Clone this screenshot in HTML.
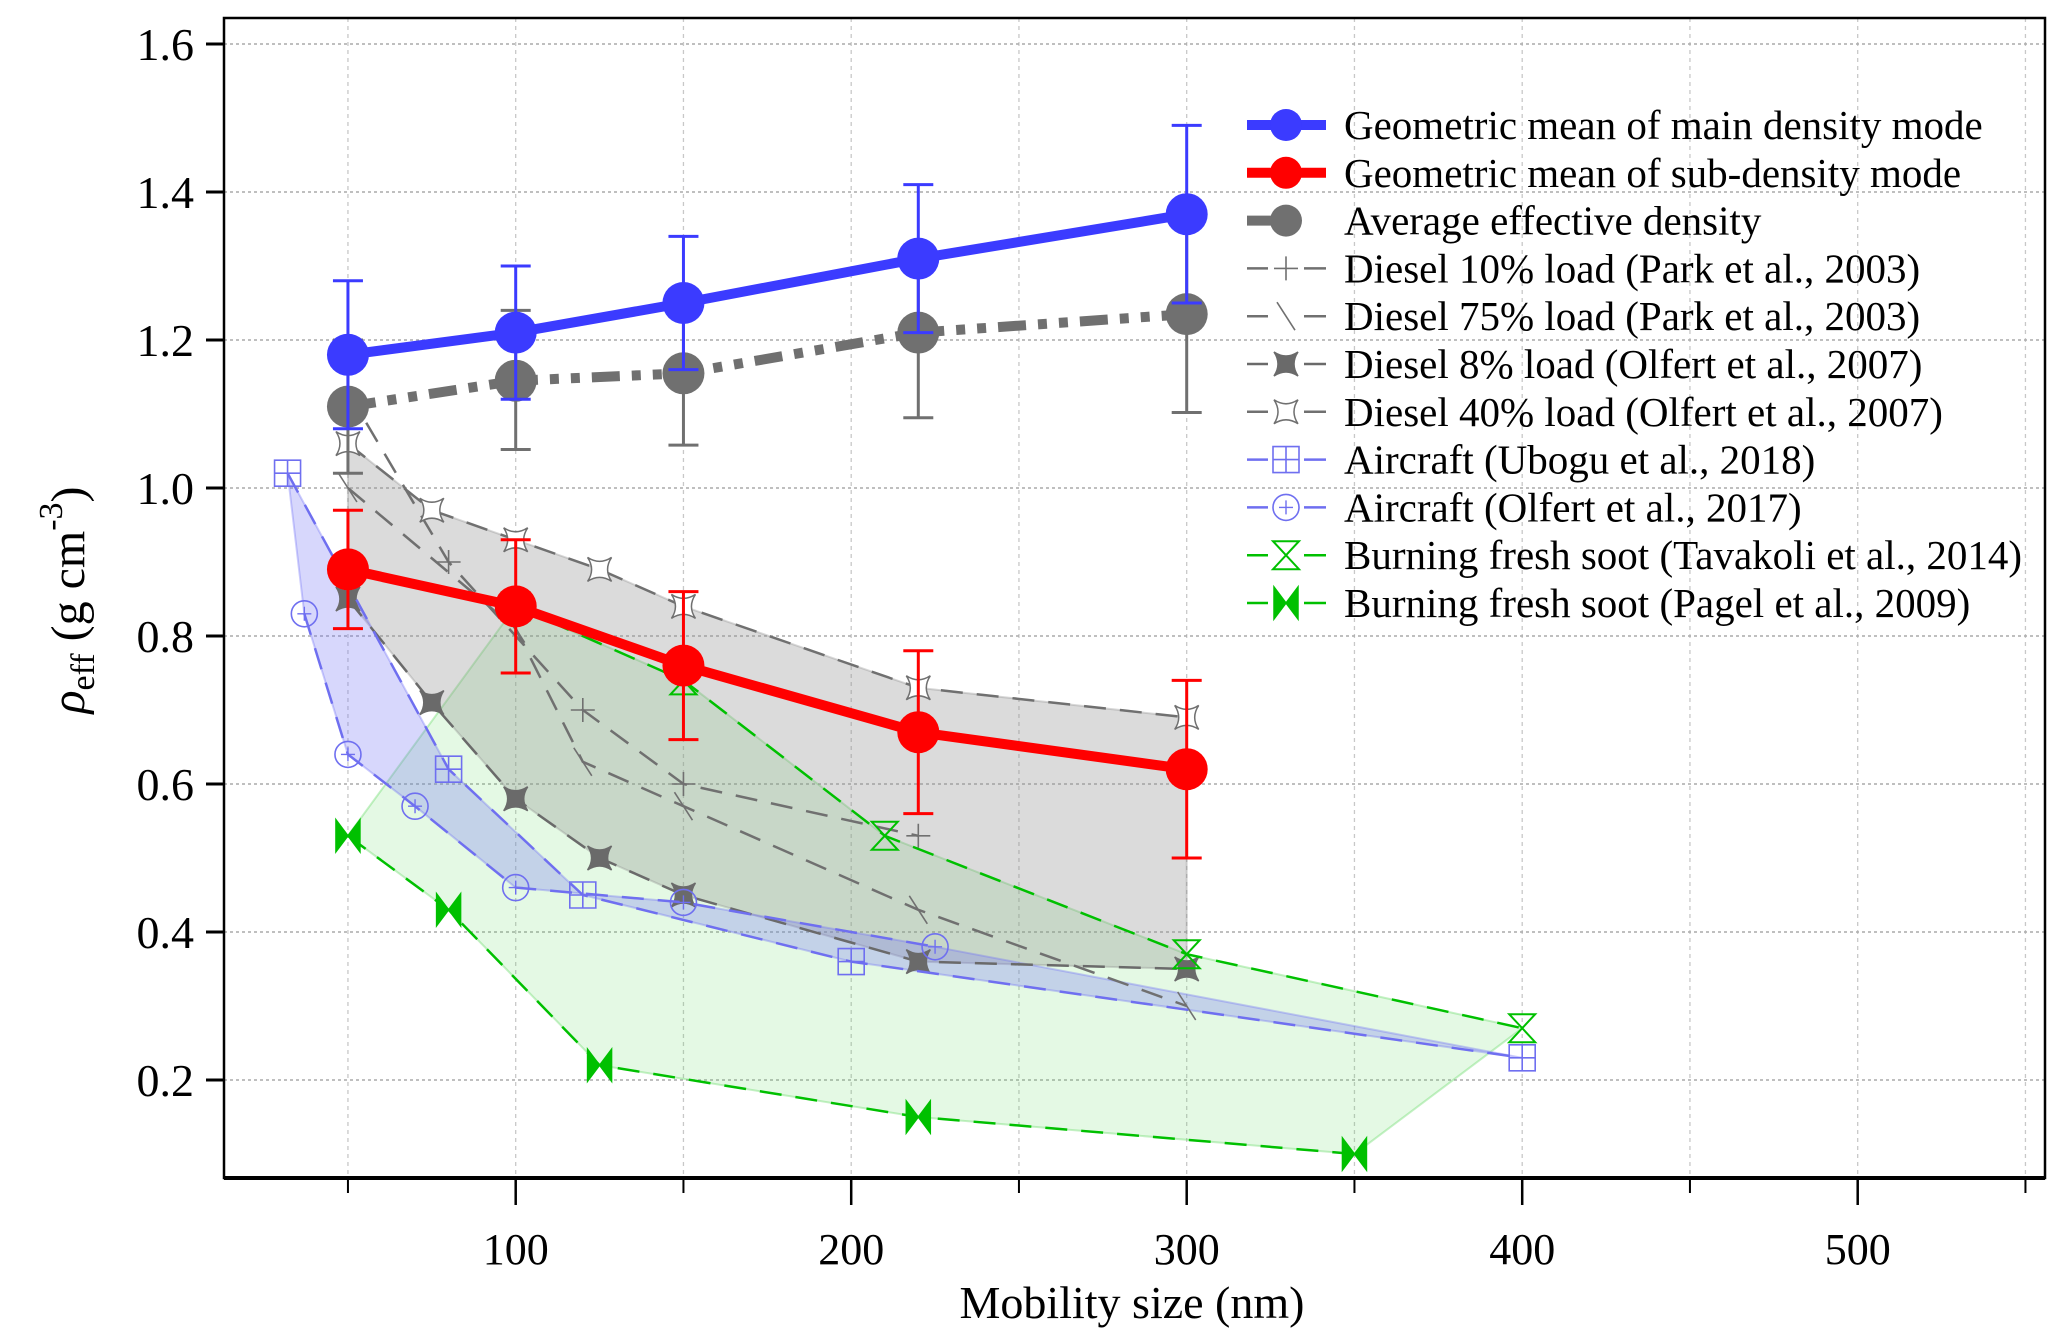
<!DOCTYPE html>
<html><head><meta charset="utf-8"><style>
html,body{margin:0;padding:0;background:#fff;}
svg{display:block;font-family:"Liberation Serif",serif;}
</style></head><body>
<svg id="chart" width="2067" height="1343" viewBox="0 0 2067 1343" xmlns="http://www.w3.org/2000/svg">
<g id="grid"></g>
<g id="fills"></g>
<g id="series"></g>
<g id="axes"></g>
<g id="legend"></g>
</svg>
<script>
const xTicks=[100,200,300,400,500];
const xMinor=[50,150,250,350,450,550];
const yTicks=[0.2,0.4,0.6,0.8,1.0,1.2,1.4,1.6];
const yTickLabels=["0.2","0.4","0.6","0.8","1.0","1.2","1.4","1.6"];
const meanX=[50,100,150,220,300];
const mainY=[1.18,1.21,1.25,1.31,1.37];
const mainLo=[1.08,1.12,1.16,1.21,1.25];
const mainHi=[1.28,1.30,1.34,1.41,1.49];
const subY=[0.89,0.84,0.76,0.67,0.62];
const subLo=[0.81,0.75,0.66,0.56,0.50];
const subHi=[0.97,0.93,0.86,0.78,0.74];
const avgY=[1.11,1.145,1.155,1.21,1.235];
const avgLo=[1.02,1.052,1.058,1.095,1.102];
const avgHi=[1.20,1.24,1.25,1.32,1.37];
const d10X=[50,80,120,150,220];
const d10Y=[1.13,0.90,0.70,0.60,0.53];
const d75X=[50,100,120,150,220,300];
const d75Y=[1.00,0.81,0.63,0.57,0.43,0.30];
const d8X=[50,75,100,125,150,220,300];
const d8Y=[0.85,0.71,0.58,0.50,0.45,0.36,0.35];
const d40X=[50,75,100,125,150,220,300];
const d40Y=[1.06,0.97,0.93,0.89,0.84,0.73,0.69];
const ubX=[32,80,120,200,400];
const ubY=[1.02,0.62,0.45,0.36,0.23];
const olX=[37,50,70,100,150,225,400];
const olY=[0.83,0.64,0.57,0.46,0.44,0.38,0.23];
const tvX=[100,150,210,300,400];
const tvY=[0.84,0.74,0.53,0.37,0.27];
const pgX=[50,80,125,220,350];
const pgY=[0.53,0.43,0.22,0.15,0.10];
const legendLabels=["Geometric mean of main density mode","Geometric mean of sub-density mode","Average effective density","Diesel 10% load (Park et al., 2003)","Diesel 75% load (Park et al., 2003)","Diesel 8% load  (Olfert et al., 2007)","Diesel 40% load (Olfert et al., 2007)","Aircraft (Ubogu et al., 2018)","Aircraft (Olfert et al., 2017)","Burning fresh soot (Tavakoli et al., 2014)","Burning fresh soot (Pagel et al., 2009)"];

const L=224,R=2045,T=18,B=1178;
const sx=v=>180.2+v*3.355;
const sy=v=>44+(1.6-v)*740;
const NS="http://www.w3.org/2000/svg";
function mk(parent,tag,attrs,text){const e=document.createElementNS(NS,tag);for(const k in attrs)e.setAttribute(k,attrs[k]);if(text!==undefined)e.textContent=text;(typeof parent==="string"?document.getElementById(parent):parent).appendChild(e);return e;}
function pts(xs,ys){return xs.map((x,i)=>sx(x).toFixed(1)+","+sy(ys[i]).toFixed(1)).join(" ");}

// grid
xTicks.concat(xMinor).forEach(v=>{if(sx(v)<R){const e=mk("grid","line",{x1:sx(v),x2:sx(v),y1:T,y2:B,stroke:"#c8c8c8","stroke-width":1.3,"stroke-dasharray":"4,4"});

}});
yTicks.forEach(v=>{const e=mk("grid","line",{x1:L,x2:R,y1:sy(v),y2:sy(v),stroke:"#aaa","stroke-width":1.5,"stroke-dasharray":"3,3"});

});

// fills
function fill(poly,color,op,name){const e=mk("fills","polygon",{points:poly,fill:color,"fill-opacity":op,stroke:color,"stroke-opacity":0.35,"stroke-width":2});

}
fill(pts(pgX,pgY)+" "+pts(tvX.slice().reverse(),tvY.slice().reverse()),"#5ad75a",0.16,"green-fill");
fill(pts(d40X,d40Y)+" "+pts(d8X.slice().reverse(),d8Y.slice().reverse()),"#909090",0.32,"diesel-fill");
fill(pts(ubX,ubY)+" "+pts(olX.slice().reverse(),olY.slice().reverse()),"#6f6ff5",0.28,"aircraft-fill");

function marker(g,type,x,y,color){
 const s=12;
 if(type==="plus"){mk(g,"path",{d:`M${x-s},${y}H${x+s}M${x},${y-s}V${y+s}`,stroke:color,"stroke-width":1.6,fill:"none"});}
 else if(type==="bslash"){mk(g,"path",{d:`M${x-9},${y-14}L${x+9},${y+14}`,stroke:color,"stroke-width":1.6,fill:"none"});}
 else if(type==="star4f"||type==="star4o"){const k=4;mk(g,"path",{d:`M${x-s},${y-s}Q${x},${y-k} ${x+s},${y-s}Q${x+k},${y} ${x+s},${y+s}Q${x},${y+k} ${x-s},${y+s}Q${x-k},${y} ${x-s},${y-s}Z`,fill:type==="star4f"?color:"#fff",stroke:color,"stroke-width":1.5});}
 else if(type==="sqplus"){mk(g,"path",{d:`M${x-13},${y-13}h26v26h-26zM${x},${y-13}V${y+13}M${x-13},${y}H${x+13}`,fill:"none",stroke:color,"stroke-width":1.6});}
 else if(type==="cplus"){mk(g,"circle",{cx:x,cy:y,r:13,fill:"none",stroke:color,"stroke-width":1.6});mk(g,"path",{d:`M${x-7},${y}H${x+7}M${x},${y-7}V${y+7}`,stroke:color,"stroke-width":1.4});}
 else if(type==="hour"){mk(g,"path",{d:`M${x-13},${y-14}H${x+13}L${x-13},${y+14}H${x+13}Z`,fill:"none",stroke:color,"stroke-width":2});}
 else if(type==="bow"){mk(g,"path",{d:`M${x-12},${y-16}V${y+16}L${x+12},${y-16}V${y+16}Z`,fill:color,stroke:color,"stroke-width":1.5});}
 else if(type==="circle"){mk(g,"circle",{cx:x,cy:y,r:21,fill:color});}
}
function series(name,xs,ys,color,w,dash,type){
 const g=mk("series","g",{});
 
 
 mk(g,"polyline",{points:pts(xs,ys),fill:"none",stroke:color,"stroke-width":w,"stroke-dasharray":dash});
 xs.forEach((x,i)=>marker(g,type,sx(x),sy(ys[i]),color));
}
function errs(name,xs,lo,hi,color){
 const g=mk("series","g",{});
 
 
 xs.forEach((x,i)=>{const X=sx(x);mk(g,"path",{d:`M${X},${sy(lo[i])}V${sy(hi[i])}M${X-15},${sy(lo[i])}H${X+15}M${X-15},${sy(hi[i])}H${X+15}`,stroke:color,"stroke-width":3,fill:"none"});});
}
series("diesel-75-series",d75X,d75Y,"#707070",2.5,"22,14","bslash");
series("diesel-10-series",d10X,d10Y,"#707070",2.5,"22,14","plus");
series("diesel-8-series",d8X,d8Y,"#6a6a6a",2.5,"22,14","star4f");
series("diesel-40-series",d40X,d40Y,"#707070",2.5,"22,14","star4o");
series("aircraft-ubogu-series",ubX,ubY,"#6f6ff0",2.5,"22,14","sqplus");
series("aircraft-olfert-series",olX.slice(0,6),olY.slice(0,6),"#6f6ff0",2.5,"22,14","cplus");
series("tavakoli-series",tvX,tvY,"#00c000",2.5,"22,14","hour");
series("pagel-series",pgX,pgY,"#00c000",2.5,"22,14","bow");
errs("avg-errorbars",meanX,avgLo,avgHi,"#707070");
series("avg-density-series",meanX,avgY,"#707070",10,"28,12,9,12,9,12","circle");
errs("main-errorbars",meanX,mainLo,mainHi,"#3b3bff");
series("main-density-series",meanX,mainY,"#3b3bff",10,"none","circle");
errs("sub-errorbars",meanX,subLo,subHi,"#ff0000");
series("sub-density-series",meanX,subY,"#ff0000",10,"none","circle");

// axes
const ax=document.getElementById("axes");
mk(ax,"rect",{x:L,y:T,width:R-L,height:B-T,fill:"none",stroke:"#000","stroke-width":2.5});
mk(ax,"line",{x1:L,x2:R,y1:B,y2:B,stroke:"#000","stroke-width":4});
yTicks.forEach((v,i)=>{mk(ax,"line",{x1:L-18,x2:L,y1:sy(v),y2:sy(v),stroke:"#000","stroke-width":3});
 const t=mk(ax,"text",{x:L-30,y:sy(v)+16,"text-anchor":"end","font-size":46},yTickLabels[i]);
 
 });
xTicks.forEach(v=>{mk(ax,"line",{x1:sx(v),x2:sx(v),y1:B,y2:B+27,stroke:"#000","stroke-width":2.5});
 const t=mk(ax,"text",{x:sx(v),y:1264,"text-anchor":"middle","font-size":44},String(v));
 
 });
xMinor.forEach(v=>{mk(ax,"line",{x1:sx(v),x2:sx(v),y1:B,y2:B+15,stroke:"#000","stroke-width":2});});
const xt=mk(ax,"text",{x:1132,y:1318,"text-anchor":"middle","font-size":46},"Mobility size (nm)");


const yt=mk(ax,"text",{transform:"translate(84,600) rotate(-90)","text-anchor":"middle","font-size":48},"");


mk(yt,"tspan",{"font-style":"italic"},"ρ");
mk(yt,"tspan",{"font-size":34,dy:10},"eff");
mk(yt,"tspan",{dy:-10}," (g cm");
mk(yt,"tspan",{"font-size":34,dy:-22},"-3");
mk(yt,"tspan",{dy:22},")");

// legend
const legStyles=[["#3b3bff",10,"none","circle"],["#ff0000",10,"none","circle"],["#707070",10,"dash","circle"],["#707070",2.5,"none","plus"],["#707070",2.5,"none","bslash"],["#6a6a6a",2.5,"none","star4f"],["#707070",2.5,"none","star4o"],["#6f6ff0",2.5,"none","sqplus"],["#6f6ff0",2.5,"none","cplus"],["#00c000",2.5,"none","hour"],["#00c000",2.5,"none","bow"]];
legendLabels.forEach((lab,i)=>{
 const y=125+i*47.8;
 const g=mk("legend","g",{});
 
 
 const st=legStyles[i];
 mk(g,"line",{x1:1247,x2:1326,y1:y,y2:y,stroke:st[0],"stroke-width":st[1],"stroke-dasharray":st[2]==="none"?"none":"36,8,10,30"});
 if(st[3]==="circle"){mk(g,"circle",{cx:1286,cy:y,r:16,fill:st[0]});}else{mk(g,"rect",{x:1268,y:y-10,width:36,height:20,fill:"#fff"});marker(g,st[3],1286,y,st[0]);}
 mk(g,"text",{x:1344,y:y+14,"font-size":41},lab);
});
</script>
</body></html>
